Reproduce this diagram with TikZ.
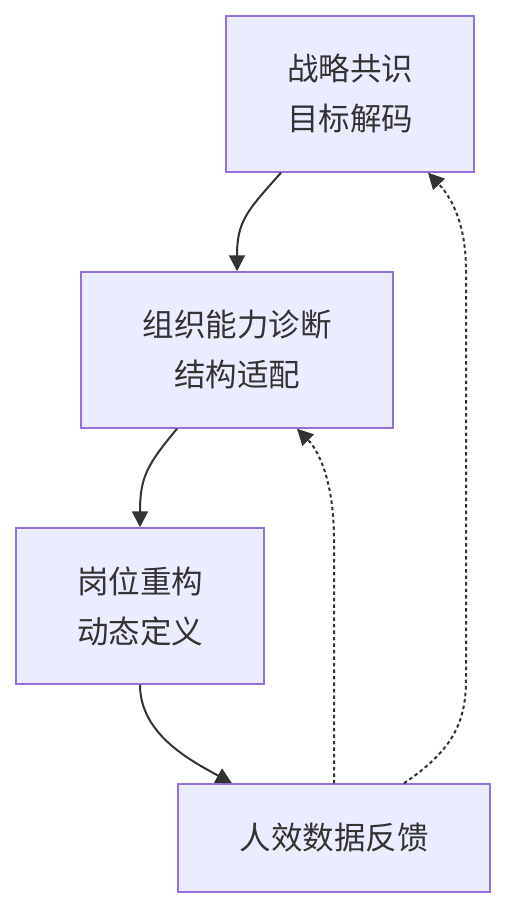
\documentclass[tikz,border=0pt]{standalone}
\usepackage{fontspec}
\newfontfamily\cjk{Noto Sans CJK SC}
\usepackage{tikz}
\usetikzlibrary{arrows.meta}
\definecolor{boxfill}{HTML}{ECECFF}
\definecolor{boxline}{HTML}{9370DB}
\definecolor{ink}{HTML}{333333}
\tikzset{>={Triangle[length=16pt,width=16pt]}}
\tikzset{box/.style={draw=boxline,fill=boxfill,line width=1.5pt,inner sep=0pt,
    align=center,text=ink,font=\cjk\fontsize{31.5}{50}\selectfont}}
\tikzset{link/.style={->,draw=ink,line width=2pt}}
\tikzset{back/.style={link,dash pattern=on 3.5pt off 3pt}}

\begin{document}
\begin{tikzpicture}[x=1pt,y=-1pt]
    \useasboundingbox[fill=white] (0,0) rectangle (506,908);

    \node[box,minimum width=248pt,minimum height=156pt] (strat) at (350,94) {战略共识\\目标解码};
    \node[box,minimum width=312pt,minimum height=156pt] (org) at (237,350) {组织能力诊断\\结构适配};
    \node[box,minimum width=248pt,minimum height=156pt] (post) at (140,606) {岗位重构\\动态定义};
    \node[box,minimum width=312pt,minimum height=108pt] (data) at (334,838) {人效数据反馈};

    % forward flow
    \draw[link] ([xshift=-69pt]strat.south) .. controls +(-34,38) and +(0,-50) .. (org.north);
    \draw[link] ([xshift=-60pt]org.south) .. controls +(-30,36) and +(0,-50) .. (post.north);
    \draw[link] (post.south) .. controls +(0,50) and +(-40,-22) .. ([xshift=-102pt]data.north);

    % feedback
    \draw[back] (data.north) -- (334,540) .. controls (334,480) and (318,450) .. ([xshift=60pt]org.south);
    \draw[back] ([xshift=70pt]data.north) .. controls (450,752) and (466,725) .. (466,680)
        -- (466,270) .. controls (466,225) and (452,198) .. ([xshift=78pt]strat.south);
\end{tikzpicture}
\end{document}
